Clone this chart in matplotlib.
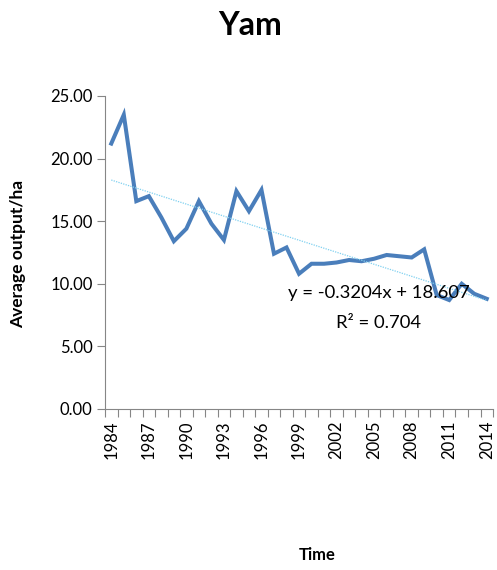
import matplotlib.pyplot as plt
import numpy as np

# Yam average output per hectare, 1984-2014
years = list(range(1984, 2015))
output = [21.2, 23.5, 16.6, 17.0, 15.3, 13.4, 14.4, 16.6, 14.8, 13.5,
          17.4, 15.8, 17.5, 12.4, 12.9, 10.8, 11.6, 11.6, 11.7, 11.9,
          11.8, 12.0, 12.3, 12.2, 12.1, 12.75, 9.1, 8.7, 10.0, 9.2, 8.8]
slope, intercept = -0.3204, 18.607
r2 = 0.704

plt.rcParams['font.family'] = ['Lato', 'DejaVu Sans']
grey = '#868686'

fig = plt.figure(figsize=(4.97, 5.70), dpi=100)
ax = fig.add_axes([0.2113, 0.2825, 0.7807, 0.5491])

x = np.arange(len(years))
ax.plot(x, output, color='#4a7ebb', lw=2.9, solid_joinstyle='miter')

# linear trend (x runs 1..31 as in Excel)
t = x + 1
ax.plot(x, slope * t + intercept, color='#7fd0f0', lw=0.9, ls=(0, (1, 1)))

ax.set_xlim(-0.5, len(years) - 0.5)
ax.set_ylim(0, 25)
ax.set_yticks(np.arange(0, 26, 5))
ax.set_yticklabels(['%.2f' % v for v in np.arange(0, 26, 5)], fontsize=12)

# tick marks between categories, labels every third year
ax.set_xticks(np.arange(-0.5, len(years)), minor=False)
ax.set_xticklabels([])
ax.set_xticks(x[::3], minor=True)
ax.set_xticklabels([str(y) for y in years[::3]], minor=True, rotation=90, fontsize=12)
ax.tick_params(axis='x', which='major', length=6, color=grey, direction='out')
ax.tick_params(axis='x', which='minor', length=0, pad=8)
ax.tick_params(axis='y', length=6, color=grey, pad=3)

for s in ['top', 'right']:
    ax.spines[s].set_visible(False)
for s in ['left', 'bottom']:
    ax.spines[s].set_color(grey)

ax.text(0.706, 0.371, 'y = -0.3204x + 18.607', transform=ax.transAxes,
        ha='center', va='center', fontsize=13.3)
ax.text(0.706, 0.275, 'R² = %.3f' % r2, transform=ax.transAxes,
        ha='center', va='center', fontsize=13.3)

fig.text(0.503, 0.955, 'Yam', ha='center', va='center', fontsize=23, fontweight='bold')
fig.text(0.037, 0.555, 'Average output/ha', ha='center', va='center', rotation=90,
         fontsize=12.5, fontweight='bold')
fig.text(0.638, 0.027, 'Time', ha='center', va='center', fontsize=12, fontweight='bold')

fig.savefig('out.png', dpi=100)
